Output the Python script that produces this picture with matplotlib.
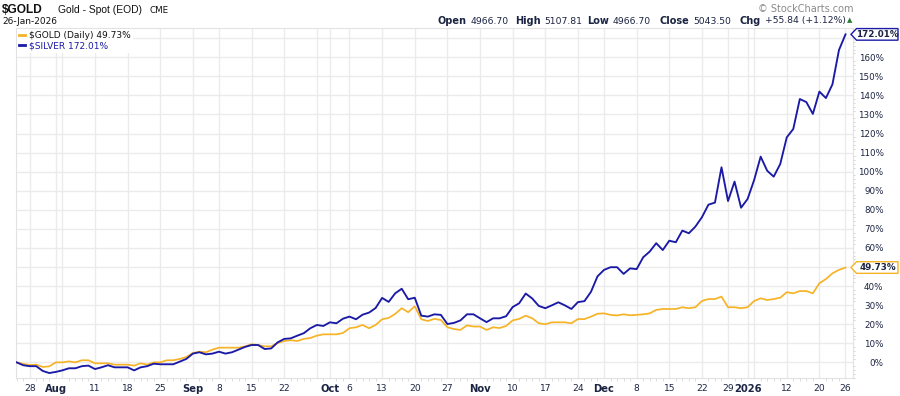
import matplotlib
matplotlib.use("Agg")
import matplotlib.pyplot as plt
import numpy as np
import pandas as pd
from matplotlib.patches import Polygon
from matplotlib.transforms import IdentityTransform
from matplotlib.ticker import MultipleLocator, FixedLocator

# ---------------- data ----------------
start_date = "2025-07-24"
end_date = "2026-01-26"
market_holidays = ["2025-09-01", "2025-11-27", "2025-12-25", "2026-01-01", "2026-01-19"]

gold = [0, -0.8, -1.4, -1.2, -2.4, -2.1, 0, 0, 0.5, 0,
        1.1, 1.1, -0.5, -0.5, -0.5, -1.2, -1.2, -1.2, -1.7, -0.5,
        -1.2, 0, 0, 1.1, 1.1, 1.8, 2.8, 4.9, 5.6, 5.3,
        6.7, 7.7, 7.7, 7.7, 7.7, 8.4, 9.5, 9.1, 8.4, 8.4,
        10.2, 11.2, 11.6, 11.2, 12.3, 12.8, 14, 14.7, 14.7, 14.7,
        15.4, 17.9, 18.4, 19.6, 17.9, 19.6, 22.6, 23.3, 25.4, 28.4,
        26.3, 29.4, 22.6, 21.7, 22.8, 22.2, 18.4, 17.5, 17, 19.4,
        18.8, 18.8, 17, 18.4, 18, 19.1, 22, 22.8, 24.5, 23.1,
        20.5, 20, 21, 21, 21, 20.5, 22.7, 22.7, 24, 25.5,
        25.7, 24.9, 24.6, 25.2, 24.7, 24.9, 25.2, 25.7, 27.5, 28,
        28, 28, 28.9, 28.4, 28.9, 32.2, 33.2, 33.2, 34.5, 28.9,
        28.9, 28.4, 28.9, 32.2, 33.6, 32.7, 33.2, 33.9, 36.8, 36.2,
        37.4, 37.4, 36.2, 41.5, 43.7, 46.7, 48.5, 49.73]

silver = [0, -1.5, -2, -2, -4.5, -5.6, -5, -4.2, -3.1, -3.1,
          -2, -1.7, -3.5, -2.6, -1.5, -2.6, -2.6, -2.6, -4.2, -2.6,
          -2, -0.7, -1, -1, -1, 0.4, 1.8, 4.6, 5.3, 4.2,
          4.6, 5.6, 4.6, 5.3, 6.7, 8.1, 9.1, 9.1, 7, 7.3,
          10.5, 12.3, 12.6, 14, 15.3, 17.9, 19.6, 19.1, 21, 20.5,
          22.9, 24, 22.6, 25, 26.1, 28.5, 33.8, 31.7, 36.2, 38.6,
          33.1, 33.9, 24.5, 24, 25.2, 24.9, 20.1, 20.7, 22, 25.2,
          25.2, 23.1, 21.1, 23.1, 23.1, 24.2, 29, 31, 36.1, 33.5,
          29.6, 28.4, 29.9, 31.5, 29.9, 28, 31.6, 32.1, 37, 45.1,
          48.5, 49.9, 49.9, 46.4, 49.3, 48.9, 55.1, 58.1, 62.5, 58.9,
          63.8, 63, 69.1, 67.7, 71.2, 76.1, 82.7, 83.8, 102.3, 84.6,
          94.8, 81.1, 85.7, 95.6, 107.9, 100.5, 97.4, 104, 118, 122.4,
          138.1, 136.5, 130.3, 142, 138.6, 145.8, 163.8, 172.01]

y_ticks = list(range(0, 171, 10))

ohlc_labels = ["Open", "High", "Low", "Close", "Chg"]
ohlc_values = ["4966.70", "5107.81", "4966.70", "5043.50", "+55.84 (+1.12%)"]

# ---------------- dates ----------------
dates = pd.bdate_range(start_date, end_date)
dates = dates[~dates.isin(pd.to_datetime(market_holidays))]
x = np.arange(len(dates))

# tick positions: first trading day of each week and of each month
iso_week = [d.isocalendar()[1] for d in dates]
week_starts = [i for i in range(len(dates)) if i > 0 and iso_week[i] != iso_week[i - 1]]
month_starts = [i for i in range(len(dates)) if i > 0 and dates[i].month != dates[i - 1].month]
grid_pos = sorted(set(week_starts) | set(month_starts))
labels = []
for p in grid_pos:
    if p in month_starts:
        d = dates[p]
        labels.append(str(d.year) if d.month == 1 else d.strftime("%b"))
    elif any(0 < abs(p - m) <= 2 for m in month_starts):
        labels.append("")
    else:
        labels.append(str(dates[p].day))

# ---------------- figure ----------------
W, H = 900, 396
fig = plt.figure(figsize=(9, 3.96), dpi=100)
fig.patch.set_facecolor("white")
ax = fig.add_axes([16 / W, 18 / H, 837 / W, 350 / H])

GOLD_C = "#f6b326"
SILV_C = "#1a1aa6"
TXT_C = "#1b2442"
GRID_C = "#ebebeb"

ax.plot(x, gold, color=GOLD_C, lw=1.25, zorder=3, solid_joinstyle="round")
ax.plot(x, silver, color=SILV_C, lw=1.35, zorder=4, solid_joinstyle="round")

ax.set_xlim(-0.1, len(x) - 1 + 1.15)
ax.set_ylim(-8.2, 175.35)

ax.set_xticks(grid_pos)
ax.set_xticklabels(labels)
for lab, p in zip(ax.get_xticklabels(), grid_pos):
    lab.set_fontsize(6.6)
    lab.set_color(TXT_C)
    lab.set_family("DejaVu Sans")
    if p in month_starts:
        lab.set_fontweight("bold")
        lab.set_fontsize(7.2)
ax.xaxis.set_minor_locator(FixedLocator(x))
ax.tick_params(axis="x", which="major", length=0, pad=4)
ax.tick_params(axis="x", which="minor", length=2, color="#d6d6d6", width=0.6)

# y tick labels (those hidden behind the value tags are left blank)
tag_values = [gold[-1], silver[-1]]
ax.yaxis.tick_right()
ax.set_yticks(y_ticks)
ax.set_yticklabels(["" if any(abs(v - t) < 6 for t in tag_values) else f"{v}%" for v in y_ticks])
for lab in ax.get_yticklabels():
    lab.set_ha("right")
    lab.set_fontsize(6.3)
    lab.set_color(TXT_C)
    lab.set_family("DejaVu Sans")
ax.yaxis.set_minor_locator(MultipleLocator(2))
ax.tick_params(axis="y", which="major", length=0, pad=22)
ax.tick_params(axis="y", which="minor", length=1.5, color="#cfcfcf", width=0.6, right=True, left=False)

ax.grid(True, which="major", color=GRID_C, lw=1.0, zorder=0)
ax.set_axisbelow(True)
for s in ax.spines.values():
    s.set_color("#e2e2e2")
    s.set_linewidth(0.8)

# legend
leg_handles = [
    plt.Line2D([], [], color=GOLD_C, lw=2),
    plt.Line2D([], [], color=SILV_C, lw=2),
]
leg = ax.legend(leg_handles,
                [f"$GOLD (Daily) {gold[-1]:.2f}%", f"$SILVER {silver[-1]:.2f}%"],
                loc="upper left", bbox_to_anchor=(0.0, 1.0), fontsize=6.5,
                handlelength=0.65, handletextpad=0.45, borderpad=0.25,
                labelspacing=0.12, borderaxespad=0.1, frameon=True,
                fancybox=False, framealpha=1.0)
leg.get_frame().set_edgecolor("white")
leg.get_frame().set_linewidth(0)
leg.get_texts()[0].set_color("#111111")
leg.get_texts()[1].set_color(SILV_C)
leg.set_zorder(10)

# ---------------- header ----------------
def fx(px):
    return px / W


def fy(py):
    return 1 - py / H


fig.text(fx(2), fy(10), "$GOLD", fontsize=8.6, fontweight="bold", color="#111111",
         family="Liberation Sans", va="center", ha="left")
fig.text(fx(58), fy(10), "Gold - Spot (EOD)", fontsize=7.4, color="#111111",
         family="Liberation Sans", va="center", ha="left")
fig.text(fx(150), fy(10.5), "CME", fontsize=6.3, color="#111111",
         family="DejaVu Sans", va="center", ha="left")
fig.text(fx(2), fy(21.5), "26-Jan-2026", fontsize=6.5, color="#111111",
         family="DejaVu Sans", va="center", ha="left")
fig.text(fx(853), fy(9), "\u00a9 StockCharts.com", fontsize=7, color="#8a8a8a",
         family="DejaVu Sans", va="center", ha="right")

renderer = fig.canvas.get_renderer()
label_x = [438, 515.5, 587.5, 660, 740]
for lx, lab, val in zip(label_x, ohlc_labels, ohlc_values):
    t = fig.text(fx(lx), fy(21), lab, fontsize=7.0, fontweight="bold", color=TXT_C,
                 family="DejaVu Sans", va="center", ha="left")
    x_end = t.get_window_extent(renderer).x1
    fig.text(fx(x_end + 3.5), fy(21), val, fontsize=6.7, color=TXT_C,
             family="DejaVu Sans", va="center", ha="left")
fig.text(fx(849.5), fy(20), "\u25b2", fontsize=5, color="#2e7d32",
         family="DejaVu Sans", va="center", ha="center")

# ---------------- value tags ----------------
def tag(value, color):
    yc = ax.transData.transform((0, value))[1]
    x0, x1, xt, h = 851, 898, 856.5, 5.8
    pts = [(x0, yc), (xt, yc + h), (x1, yc + h), (x1, yc - h), (xt, yc - h)]
    poly = Polygon(pts, closed=True, facecolor="white", edgecolor=color, lw=1.0,
                   transform=IdentityTransform(), zorder=20)
    fig.add_artist(poly)
    fig.text(877.5, yc, f"{value:.2f}%", transform=IdentityTransform(), fontsize=6.3,
             fontweight="bold", color=TXT_C, family="DejaVu Sans",
             ha="center", va="center", zorder=21)


tag(silver[-1], SILV_C)
tag(gold[-1], GOLD_C)

fig.savefig("out.png", dpi=100, facecolor="white")
